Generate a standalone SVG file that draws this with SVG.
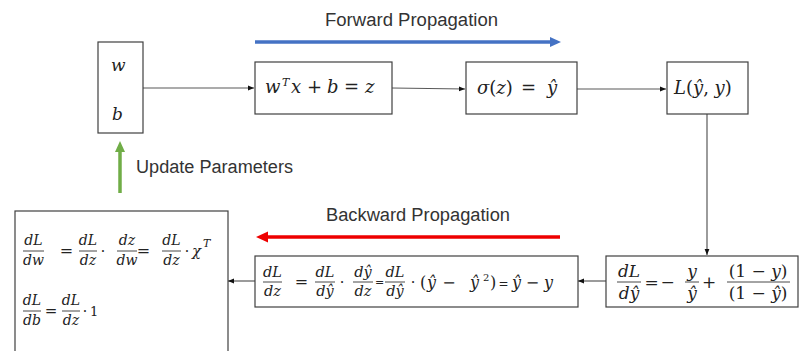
<svg xmlns="http://www.w3.org/2000/svg" width="799" height="351" viewBox="0 0 799 351">
<defs>
<style>
.box{fill:#fff;stroke:#404040;stroke-width:1.2}
.conn{stroke:#595959;stroke-width:1.2;fill:none}
.m{font-family:"DejaVu Serif","Liberation Serif",serif;font-style:italic;fill:#222}
.r{font-family:"DejaVu Serif","Liberation Serif",serif;font-style:normal;fill:#222}
.lbl{font-family:"Liberation Sans","Noto Sans",sans-serif;font-size:18px;fill:#333}
.bar{stroke:#333;stroke-width:0.9}
.c{text-anchor:middle}
</style>
<marker id="ah" viewBox="0 0 10 10" refX="10" refY="5" markerWidth="6" markerHeight="6" orient="auto" markerUnits="userSpaceOnUse">
<path d="M0,1 L10,5 L0,9 Z" fill="#111"/>
</marker>
</defs>
<rect width="799" height="351" fill="#fff"/>

<g id="labels">
<text class="lbl" x="325" y="26" textLength="173" lengthAdjust="spacingAndGlyphs">Forward Propagation</text>
<line x1="255" y1="42" x2="552" y2="42" stroke="#4472C4" stroke-width="3.5"/>
<path d="M550,37 L561,42 L550,47 Z" fill="#4472C4"/>
<text class="lbl" x="136" y="173" textLength="157" lengthAdjust="spacingAndGlyphs">Update Parameters</text>
<line x1="120" y1="193" x2="120" y2="150" stroke="#70AD47" stroke-width="3.5"/>
<path d="M115,152 L120,141 L125,152 Z" fill="#70AD47"/>
<text class="lbl" x="326" y="221" textLength="184" lengthAdjust="spacingAndGlyphs">Backward Propagation</text>
<line x1="266" y1="237" x2="560" y2="237" stroke="#EE0000" stroke-width="3.5"/>
<path d="M268,231.5 L256,237 L268,242.5 Z" fill="#EE0000"/>
</g>

<g id="connectors">
<line class="conn" x1="143" y1="88" x2="254" y2="88" marker-end="url(#ah)"/>
<line class="conn" x1="392" y1="88" x2="465" y2="89" marker-end="url(#ah)"/>
<line class="conn" x1="577" y1="89" x2="666" y2="89" marker-end="url(#ah)"/>
<line class="conn" x1="707" y1="114" x2="707" y2="255" marker-end="url(#ah)"/>
<line class="conn" x1="606" y1="281" x2="578" y2="281" marker-end="url(#ah)"/>
<line class="conn" x1="255" y1="281" x2="228" y2="281" marker-end="url(#ah)"/>
</g>

<g id="params">
<rect class="box" x="98" y="42" width="45" height="91"/>
<text class="m" x="111" y="71" font-size="17">w</text>
<text class="m" x="112" y="120" font-size="17">b</text>
</g>

<g id="linear" font-size="18">
<rect class="box" x="255" y="62" width="137" height="52"/>
<text class="m" x="265" y="93">w</text>
<text class="m" x="282" y="86" font-size="11">T</text>
<text class="m" x="291" y="93">x</text>
<text class="r c" x="314.5" y="93">+</text>
<text class="m" x="327" y="93">b</text>
<text class="r c" x="351.5" y="93">=</text>
<text class="m" x="365" y="93">z</text>
</g>

<g id="sigmoid" font-size="18">
<rect class="box" x="466" y="62" width="111" height="52"/>
<text class="m" x="477" y="94">σ<tspan class="r">(</tspan>z<tspan class="r">)</tspan></text>
<text class="r c" x="528.5" y="94">=</text>
<text class="m" x="547" y="94">ŷ</text>
</g>

<g id="loss" font-size="18">
<rect class="box" x="667" y="62" width="81" height="52"/>
<text class="m" x="674" y="94">L<tspan class="r">(</tspan>ŷ<tspan class="r">, </tspan>y<tspan class="r">)</tspan></text>
</g>

<g id="dL_dyhat">
<rect class="box" x="606" y="256" width="192" height="51"/>
<g class="m c" font-size="17">
<text x="629" y="277">dL</text><text x="629" y="299">dŷ</text>
<text x="692" y="277">y</text><text x="692" y="299">ŷ</text>
<text class="r c" x="758" y="277">(1 − <tspan class="m">y</tspan>)</text>
<text class="r c" x="758" y="299">(1 − <tspan class="m">ŷ</tspan>)</text>
<text class="r c" x="651.5" y="288">=</text>
<text class="r c" x="667.5" y="288">−</text>
<text class="r c" x="709" y="288">+</text>
</g>
<line class="bar" x1="617" y1="282" x2="641" y2="282"/>
<line class="bar" x1="685" y1="282" x2="699" y2="282"/>
<line class="bar" x1="727" y1="282" x2="790" y2="282"/>
</g>

<g id="dL_dz">
<rect class="box" x="255" y="256" width="323" height="51"/>
<g class="m c" font-size="14.5">
<text x="272.5" y="277">dL</text><text x="272.5" y="296">dz</text>
<text x="325" y="277">dL</text><text x="325" y="296">dŷ</text>
<text x="363" y="277">dŷ</text><text x="363" y="296">dz</text>
<text x="395" y="277">dL</text><text x="395" y="296">dŷ</text>
<text class="r c" x="301.5" y="287" font-size="16">=</text>
<text class="r c" x="342" y="287">·</text>
<text class="r c" x="379.5" y="286" font-size="11">=</text>
<text class="r c" x="413" y="287">·</text>
</g>
<line class="bar" x1="263" y1="282" x2="282" y2="282"/>
<line class="bar" x1="315" y1="282" x2="335" y2="282"/>
<line class="bar" x1="353" y1="282" x2="373" y2="282"/>
<line class="bar" x1="385" y1="282" x2="405" y2="282"/>
<g font-size="16">
<text class="r" x="420" y="288">(</text>
<text class="m" x="427" y="288">ŷ</text>
<text class="r c" x="449" y="288">−</text>
<text class="m" x="470" y="288">ŷ</text>
<text class="r" x="483" y="281" font-size="10">2</text>
<text class="r" x="490" y="288">)</text>
<text class="r c" x="503.5" y="288" font-size="12">=</text>
<text class="m" x="512" y="288">ŷ</text>
<text class="r c" x="532.5" y="288">−</text>
<text class="m" x="544" y="288">y</text>
</g>
</g>

<g id="gradients">
<rect class="box" x="15" y="211" width="213" height="145"/>
<g class="m c" font-size="14">
<text x="33.5" y="245">dL</text><text x="33.5" y="265">dw</text>
<text x="88" y="245">dL</text><text x="88" y="265">dz</text>
<text x="127" y="245">dz</text><text x="127" y="265">dw</text>
<text x="171.5" y="245">dL</text><text x="171.5" y="265">dz</text>
<text class="r c" x="66.5" y="256" font-size="16">=</text>
<text class="r c" x="103" y="256">·</text>
<text class="r c" x="143.5" y="256" font-size="16">=</text>
<text class="r c" x="187" y="256">·</text>
<text x="32" y="305">dL</text><text x="32" y="325">db</text>
<text x="71" y="305">dL</text><text x="71" y="325">dz</text>
<text class="r c" x="51" y="316" font-size="15">=</text>
<text class="r c" x="85" y="316">·</text>
</g>
<text class="m" x="192" y="256" font-size="15">χ</text>
<text class="m" x="203" y="247" font-size="11">T</text>
<text class="r" x="90" y="316" font-size="13">1</text>
<line class="bar" x1="23" y1="251" x2="44" y2="251"/>
<line class="bar" x1="79" y1="251" x2="97" y2="251"/>
<line class="bar" x1="117" y1="251" x2="137" y2="251"/>
<line class="bar" x1="162" y1="251" x2="181" y2="251"/>
<line class="bar" x1="23" y1="311" x2="41" y2="311"/>
<line class="bar" x1="62" y1="311" x2="80" y2="311"/>
</g>
</svg>
